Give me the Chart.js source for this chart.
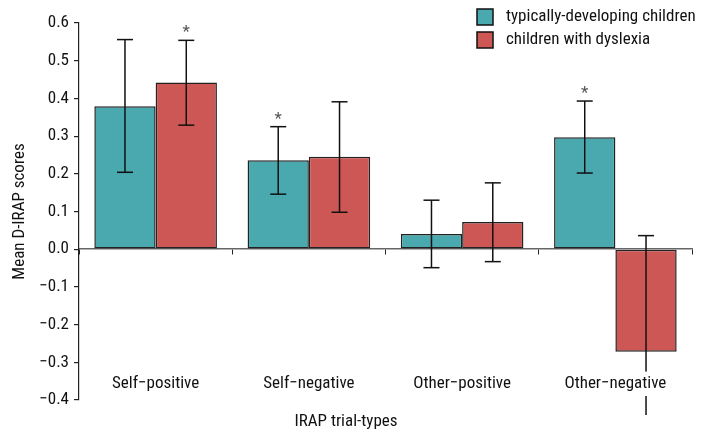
<!DOCTYPE html>
<html>
<head>
<meta charset="utf-8">
<script src="https://cdn.jsdelivr.net/npm/chart.js@4.4.1/dist/chart.umd.min.js"></script>
<style>
  body { margin: 0; background: #fff; }
  #wrap { width: 709px; height: 434px; position: relative; }
</style>
</head>
<body>
<div id="wrap"><canvas id="irap-chart"></canvas></div>
<script>
/* Data */
let categories = ['Self\u2212positive', 'Self\u2212negative', 'Other\u2212positive', 'Other\u2212negative']
let seriesNames = ['typically-developing children', 'children with dyslexia']

let tdMeans = [0.379, 0.236, 0.040, 0.297]
let tdLow = [0.204, 0.146, -0.049, 0.202]
let tdHigh = [0.556, 0.325, 0.130, 0.393]
let tdStars = [false, true, false, true]

let dysMeans = [0.442, 0.245, 0.072, -0.272]
let dysLow = [0.329, 0.098, -0.033, -0.44]
let dysHigh = [0.554, 0.391, 0.176, 0.036]
let dysStars = [true, false, false, false]

let yTicks = [-0.4, -0.3, -0.2, -0.1, 0.0, 0.1, 0.2, 0.3, 0.4, 0.5, 0.6]

let tealColor = '#49a9ae'
let redColor = '#cc5755'
let inkColor = '#111111'

let fontFamily = "'Roboto Condensed', 'DejaVu Sans Condensed', sans-serif"
Chart.defaults.font.family = fontFamily
Chart.defaults.font.size = 17
Chart.defaults.color = inkColor

// error bars + asterisks, drawn over the bars
let errorBarPlugin = {
    id: 'errorBars',
    afterDatasetsDraw(chart) {
        let ctx = chart.ctx
        let yScale = chart.scales.y
        let lows = [tdLow, dysLow]
        let highs = [tdHigh, dysHigh]
        let stars = [tdStars, dysStars]
        ctx.save()
        ctx.strokeStyle = '#111'
        ctx.lineWidth = 1.5
        chart.data.datasets.forEach(function(ds, di) {
            let meta = chart.getDatasetMeta(di)
            meta.data.forEach(function(bar, i) {
                let x = bar.x
                let yLo = yScale.getPixelForValue(lows[di][i])
                let yHi = yScale.getPixelForValue(highs[di][i])
                ctx.beginPath()
                ctx.moveTo(x, yLo)
                ctx.lineTo(x, yHi)
                ctx.stroke()
                // caps only where the end is inside the axis range
                ;[[lows[di][i], yLo], [highs[di][i], yHi]].forEach(function(end) {
                    if (end[0] >= yScale.min && end[0] <= yScale.max) {
                        ctx.beginPath()
                        ctx.moveTo(x - 8, end[1])
                        ctx.lineTo(x + 8, end[1])
                        ctx.stroke()
                    }
                })
                if (stars[di][i]) {
                    ctx.fillStyle = '#555'
                    ctx.font = '17px ' + fontFamily
                    ctx.textAlign = 'center'
                    ctx.textBaseline = 'alphabetic'
                    ctx.fillText('*', x, yHi - 3)
                }
            })
        })
        ctx.restore()
    }
}

// legend stacked in the top right corner
let cornerLegendPlugin = {
    id: 'cornerLegend',
    afterDraw(chart) {
        let ctx = chart.ctx
        ctx.save()
        chart.data.datasets.forEach(function(ds, i) {
            let top = 9 + i * 23
            ctx.fillStyle = ds.backgroundColor
            ctx.fillRect(477, top, 16, 16)
            ctx.strokeStyle = inkColor
            ctx.lineWidth = 1.5
            ctx.strokeRect(477, top, 16, 16)
            ctx.fillStyle = inkColor
            ctx.font = '17px ' + fontFamily
            ctx.textAlign = 'left'
            ctx.textBaseline = 'middle'
            ctx.fillText(ds.label, 506, top + 8)
        })
        ctx.restore()
    }
}

function formatTick(value) {
    if (Math.abs(value) < 1e-9) return '0.0'
    return value.toFixed(1).replace('-', '\u2212')
}

let ctx = document.querySelector('#irap-chart').getContext('2d')

let irapChart = new Chart(ctx, {
    type: 'bar',
    data: {
        labels: categories,
        datasets: [
            {
                label: seriesNames[0],
                data: tdMeans,
                backgroundColor: tealColor,
                borderColor: '#222',
                borderWidth: 1.5,
                borderSkipped: false
            },
            {
                label: seriesNames[1],
                data: dysMeans,
                backgroundColor: redColor,
                borderColor: '#222',
                borderWidth: 1.5,
                borderSkipped: false
            }
        ]
    },
    options: {
        responsive: true,
        maintainAspectRatio: false,
        animation: false,
        categoryPercentage: 0.8,
        barPercentage: 1.0,
        layout: { padding: { top: 23, right: 17, left: 0, bottom: 0 } },
        plugins: {
            legend: { display: false },
            tooltip: { enabled: false },
            title: {
                display: true,
                position: 'bottom',
                text: 'IRAP trial-types',
                color: inkColor,
                font: { size: 17, weight: 'normal' },
                padding: { top: 0, bottom: 2 }
            }
        },
        scales: {
            x: {
                grid: { display: false, drawTicks: false },
                border: { display: false },
                ticks: {
                    // mirrored so the labels sit just above the bottom edge, inside the plot
                    mirror: true,
                    padding: 6,
                    z: 1,
                    color: inkColor,
                    showLabelBackdrop: true,
                    backdropColor: '#ffffff',
                    backdropPadding: 2
                },
                afterFit(scale) { scale.height = 11.6 }
            },
            // zero line with tick marks between the groups
            x2: {
                type: 'category',
                position: { y: 0 },
                offset: true,
                grid: { offset: true, drawOnChartArea: false, drawTicks: true, tickLength: 5, color: '#222', lineWidth: 1 },
                border: { display: true, color: '#666', width: 1.5 },
                ticks: { display: false }
            },
            y: {
                min: -0.4,
                max: 0.6,
                afterBuildTicks(scale) {
                    scale.ticks = yTicks.map(v => ({ value: v }))
                },
                grid: { drawOnChartArea: false, drawTicks: true, tickLength: 5, color: '#222', lineWidth: 1.2 },
                border: { display: true, color: '#222', width: 1.2 },
                ticks: { padding: 5, color: inkColor, callback: formatTick },
                title: {
                    display: true,
                    text: 'Mean D-IRAP scores',
                    color: inkColor,
                    font: { size: 17 },
                    padding: { top: 10, bottom: 0 }
                },
                afterFit(scale) { scale.width = 79 }
            }
        }
    },
    plugins: [errorBarPlugin, cornerLegendPlugin]
})
</script>
</body>
</html>
